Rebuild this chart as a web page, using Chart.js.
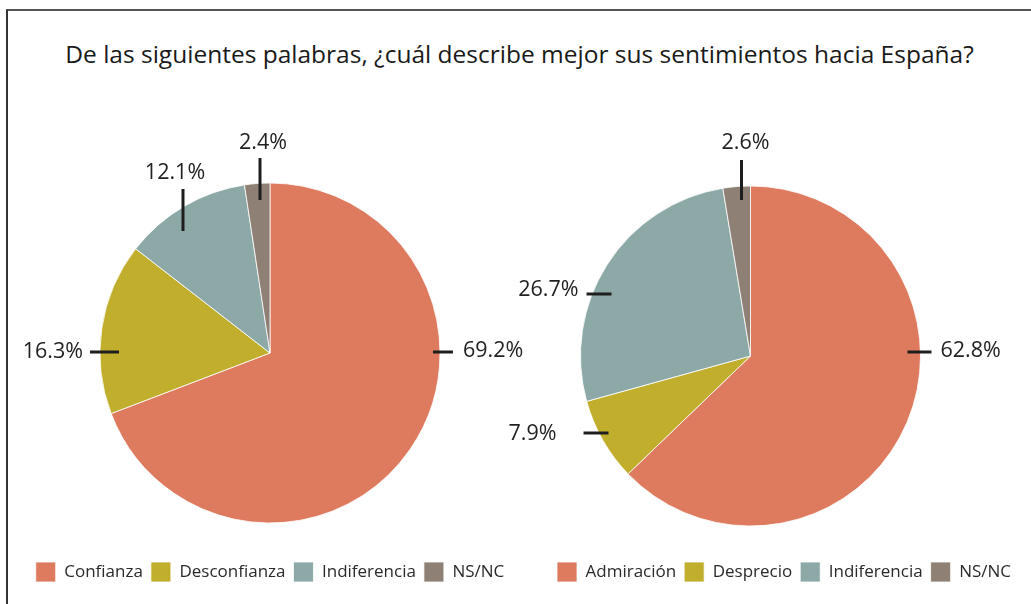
<!DOCTYPE html>
<html>
<head>
<meta charset="utf-8">
<script src="https://cdn.jsdelivr.net/npm/chart.js@4"></script>
<style>
  html, body { margin: 0; padding: 0; background: #fff; }
  body { width: 1031px; height: 604px; position: relative; overflow: hidden; font-family: "Open Sans", "Noto Sans", sans-serif; }
  #frame { position: absolute; left: 6px; top: 9px; right: 0; bottom: 0; border-top: 2px solid #555; border-left: 2px solid #333; }
  #title { position: absolute; left: 8px; right: 0; top: 39px; text-align: center; font-size: 24.5px; color: #1a1a1a; line-height: 30px; white-space: nowrap; }
  .wrap { position: absolute; }
  #w1 { left: 1px; top: 100px; width: 538px; height: 492px; }
  #w2 { left: 482px; top: 100px; width: 537px; height: 492px; }
</style>
</head>
<body>
<div id="frame"></div>
<div id="title">De las siguientes palabras, ¿cuál describe mejor sus sentimientos hacia España?</div>
<div class="wrap" id="w1"><canvas id="c1"></canvas></div>
<div class="wrap" id="w2"><canvas id="c2"></canvas></div>
<script>
// ---- data ----
const categoriesLeft = ["Confianza", "Desconfianza", "Indiferencia", "NS/NC"];
const valuesLeft = [69.2, 16.3, 12.1, 2.4];
const categoriesRight = ["Admiración", "Desprecio", "Indiferencia", "NS/NC"];
const valuesRight = [62.8, 7.9, 26.7, 2.6];

// ---- styles ----
const sliceColors = ["#DE7A5E", "#C0AE2C", "#8CA9A8", "#8E8074"];
const textColor = "#222";
const fontFamily = '"Open Sans", "Noto Sans", sans-serif';

// label placement (offsets from pie centre in units of a 170px radius)
// [lineX1, lineY1, lineX2, lineY2, textX, textY, textAlign]
const labelPosLeft = [
  [163, -1, 183, -1, 193, -2, "left"],
  [-180, -1, -151, -1, -187, -1, "right"],
  [-87, -164, -87, -122, -95, -180, "center"],
  [-10, -195, -10, -153, -7, -210, "center"]
];
const labelPosRight = [
  [157, -4, 181, -4, 190, -5, "left"],
  [-167, 77, -142, 77, -194, 78, "right"],
  [-164, -62, -139, -62, -172, -66, "right"],
  [-9, -196, -9, -156, -5, -213, "center"]
];

const labelPlugin = {
  id: "pieLabels",
  afterDatasetsDraw(chart, args, opts) {
    const meta = chart.getDatasetMeta(0);
    const arc0 = meta.data[0];
    if (!arc0) return;
    const cx = arc0.x, cy = arc0.y;
    const s = arc0.outerRadius / 170;
    const ctx = chart.ctx;
    const vals = chart.data.datasets[0].data;
    ctx.save();
    ctx.strokeStyle = "#1e1e1e";
    ctx.lineWidth = 3;
    ctx.fillStyle = textColor;
    ctx.font = "21.5px " + fontFamily;
    ctx.textBaseline = "middle";
    opts.pos.forEach((p, i) => {
      ctx.beginPath();
      ctx.moveTo(cx + p[0] * s, cy + p[1] * s);
      ctx.lineTo(cx + p[2] * s, cy + p[3] * s);
      ctx.stroke();
      ctx.textAlign = p[6];
      ctx.fillText(vals[i].toFixed(1) + "%", cx + p[4] * s, cy + p[5] * s);
    });
    ctx.restore();
  }
};

function makePie(id, labels, values, pos, align, padTop) {
  return new Chart(document.getElementById(id), {
    type: "pie",
    data: {
      labels: labels,
      datasets: [{
        data: values,
        backgroundColor: sliceColors,
        borderColor: "#ffffff",
        borderWidth: 0.8,
        radius: 170
      }]
    },
    options: {
      responsive: true,
      maintainAspectRatio: false,
      animation: false,
      layout: { padding: { top: padTop, left: 0, right: 0, bottom: 0 } },
      plugins: {
        tooltip: { enabled: false },
        legend: {
          display: true,
          position: "bottom",
          align: align,
          labels: {
            boxWidth: 20,
            boxHeight: 20,
            padding: 8,
            color: "#2a2a2a",
            font: { family: fontFamily, size: 17 }
          }
        },
        pieLabels: { pos: pos }
      }
    },
    plugins: [labelPlugin]
  });
}

makePie("c1", categoriesLeft, valuesLeft, labelPosLeft, "center", 52);
makePie("c2", categoriesRight, valuesRight, labelPosRight, "end", 58);
</script>
</body>
</html>
